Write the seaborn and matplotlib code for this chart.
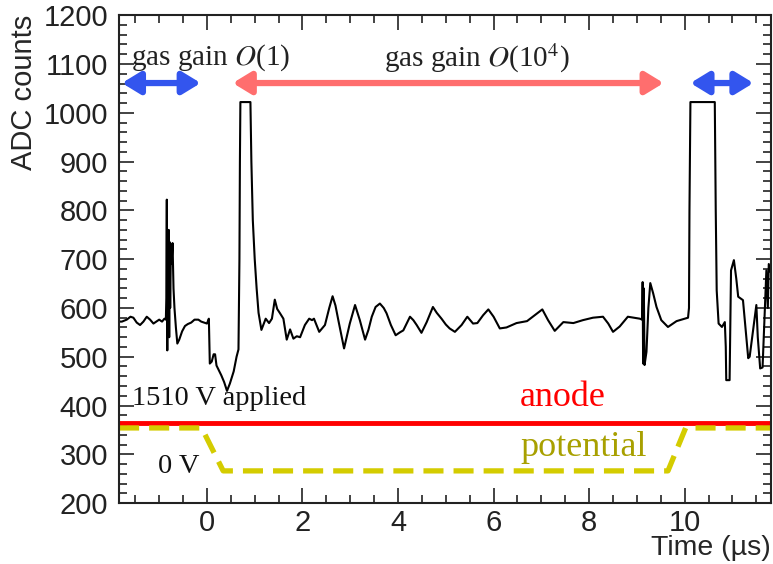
import numpy as np
import pandas as pd
import seaborn as sns
import matplotlib.pyplot as plt
from matplotlib.ticker import MultipleLocator

# waveform (time in us, ADC counts)
time_us = [-1.84, -1.78, -1.68, -1.60, -1.54, -1.47, -1.40, -1.33, -1.26, -1.19,
           -1.12, -1.06, -1.00, -0.94, -0.89, -0.86, -0.85, -0.84, -0.835, -0.83,
           -0.82, -0.81, -0.80, -0.79, -0.78, -0.77, -0.755, -0.74, -0.72, -0.70,
           -0.68, -0.65, -0.62, -0.58, -0.52, -0.46, -0.40, -0.33, -0.26, -0.18,
           -0.12, -0.06, 0.00, 0.04, 0.06, 0.10, 0.14, 0.17, 0.20, 0.25,
           0.30, 0.36, 0.42, 0.48, 0.56, 0.62, 0.66, 0.68, 0.69, 0.70,
           0.91, 0.93, 0.96, 1.00, 1.04, 1.08, 1.14, 1.18, 1.23, 1.30,
           1.36, 1.42, 1.47, 1.53, 1.60, 1.67, 1.74, 1.81, 1.88, 1.95,
           2.05, 2.14, 2.20, 2.24, 2.35, 2.47, 2.56, 2.63, 2.69, 2.75,
           2.87, 2.99, 3.10, 3.20, 3.31, 3.38, 3.45, 3.53, 3.62, 3.70,
           3.76, 3.85, 3.95, 4.04, 4.11, 4.25, 4.32, 4.39, 4.49, 4.60,
           4.73, 4.81, 4.91, 5.00, 5.08, 5.19, 5.33, 5.45, 5.57, 5.66,
           5.78, 5.89, 6.00, 6.13, 6.27, 6.48, 6.70, 6.86, 7.02, 7.14,
           7.28, 7.46, 7.67, 7.87, 8.08, 8.29, 8.40, 8.50, 8.64, 8.81,
           9.06, 9.11, 9.12, 9.13, 9.145, 9.16, 9.20, 9.24, 9.28, 9.34,
           9.41, 9.51, 9.65, 9.83, 10.07, 10.09, 10.10, 10.12, 10.63, 10.65,
           10.67, 10.71, 10.78, 10.84, 10.86, 10.87, 10.94, 10.97, 11.03, 11.08,
           11.12, 11.22, 11.33, 11.36, 11.50, 11.53, 11.58, 11.63, 11.71, 11.74,
           11.76, 11.80]
adc = [572, 572, 576, 582, 580, 570, 565, 572, 582, 576,
       568, 572, 576, 572, 578, 576, 620, 822, 600, 513,
       700, 560, 760, 540, 735, 600, 720, 690, 733, 640,
       600, 560, 527, 535, 552, 563, 567, 570, 576, 576,
       572, 570, 568, 578, 486, 490, 505, 505, 482, 472,
       462, 448, 430, 445, 470, 500, 515, 700, 900, 1022,
       1022, 900, 780, 700, 640, 590, 555, 565, 578, 569,
       578, 617, 598, 589, 578, 535, 556, 537, 542, 540,
       565, 578, 575, 578, 551, 565, 600, 624, 605, 575,
       517, 568, 606, 575, 535, 555, 582, 602, 609, 600,
       589, 565, 544, 550, 554, 582, 575, 565, 549, 571,
       602, 590, 578, 566, 558, 551, 565, 582, 568, 569,
       585, 597, 582, 558, 560, 569, 573, 585, 597, 575,
       553, 571, 569, 575, 580, 582, 568, 551, 562, 582,
       578, 576, 653, 486, 640, 483, 510, 600, 651, 630,
       602, 575, 561, 573, 580, 600, 800, 1022, 1022, 800,
       636, 568, 561, 571, 520, 452, 452, 677, 698, 660,
       623, 616, 497, 500, 606, 540, 476, 478, 677, 600,
       690, 673]

# anode line and potential curve
anode_t = [-1.84, 11.8]
anode_adc = [365, 365]
pot_t = [-1.84, -0.11, 0.34, 9.65, 10.02, 11.8]
pot_adc = [354, 354, 266, 266, 354, 354]

df = pd.DataFrame({'t': time_us, 'adc': adc})

sns.set_theme(style='ticks')
plt.rcParams['font.family'] = ['Liberation Sans', 'DejaVu Sans']
plt.rcParams['mathtext.fontset'] = 'stix'

fig = plt.figure(figsize=(7.73, 5.64), dpi=100)
ax = fig.add_axes([0.154, 0.108, 0.843, 0.865])

sns.lineplot(data=df, x='t', y='adc', estimator=None, sort=False,
             color='black', lw=1.5, ax=ax)
ax.plot(anode_t, anode_adc, color='#ff0000', lw=3.5, solid_capstyle='butt')
ax.plot(pot_t, pot_adc, color='#d4cc00', lw=3.8, ls=(0, (3.8, 1.9)))

# arrows
blue = '#3355ee'
salmon = '#ff6e6e'
arr = dict(arrowstyle='<|-|>,head_length=0.9,head_width=0.55', lw=4.5, shrinkA=0, shrinkB=0)
ax.annotate('', xy=(-1.78, 1061), xytext=(-0.13, 1061), arrowprops=dict(color=blue, **arr))
ax.annotate('', xy=(0.54, 1061), xytext=(9.56, 1061), arrowprops=dict(color=salmon, **arr))
ax.annotate('', xy=(10.12, 1061), xytext=(11.44, 1061), arrowprops=dict(color=blue, **arr))

serif = ['Liberation Serif', 'DejaVu Serif']
ax.text(0.07, 1112, r'gas gain $O$(1)', family=serif, fontsize=21, color='#222222',
        ha='center', va='center')
ax.text(5.65, 1112, r'gas gain $O$(10$^{4}$)', family=serif, fontsize=21, color='#222222',
        ha='center', va='center')
ax.text(-1.56, 415, '1510 V applied', family=serif, fontsize=20.5, color='#111111',
        ha='left', va='center')
ax.text(-0.59, 276, '0 V', family=serif, fontsize=20.5, color='#111111',
        ha='center', va='center')
ax.text(7.45, 417, 'anode', family=serif, fontsize=26, color='#ff0000',
        ha='center', va='center')
ax.text(7.88, 313, 'potential', family=serif, fontsize=26, color='#a8a000',
        ha='center', va='center')

ax.set_xlim(-1.84, 11.8)
ax.set_ylim(200, 1200)
ax.xaxis.set_major_locator(MultipleLocator(2))
ax.xaxis.set_minor_locator(MultipleLocator(0.5))
ax.yaxis.set_major_locator(MultipleLocator(100))
ax.yaxis.set_minor_locator(MultipleLocator(20))
ax.tick_params(which='both', direction='in', top=True, right=True, width=1.2, colors='#222222')
ax.tick_params(which='major', length=11, labelsize=21)
ax.tick_params(axis='y', which='major', pad=8)
ax.tick_params(axis='x', which='major', pad=4)
ax.tick_params(which='minor', length=6)
for s in ax.spines.values():
    s.set_linewidth(1.5)
    s.set_color('#222222')

ax.set_xlabel('Time (µs)', loc='right', fontsize=20.5, labelpad=-1)
ax.set_ylabel('ADC counts', loc='top', fontsize=21, labelpad=4)

plt.savefig('out.png', dpi=100)
